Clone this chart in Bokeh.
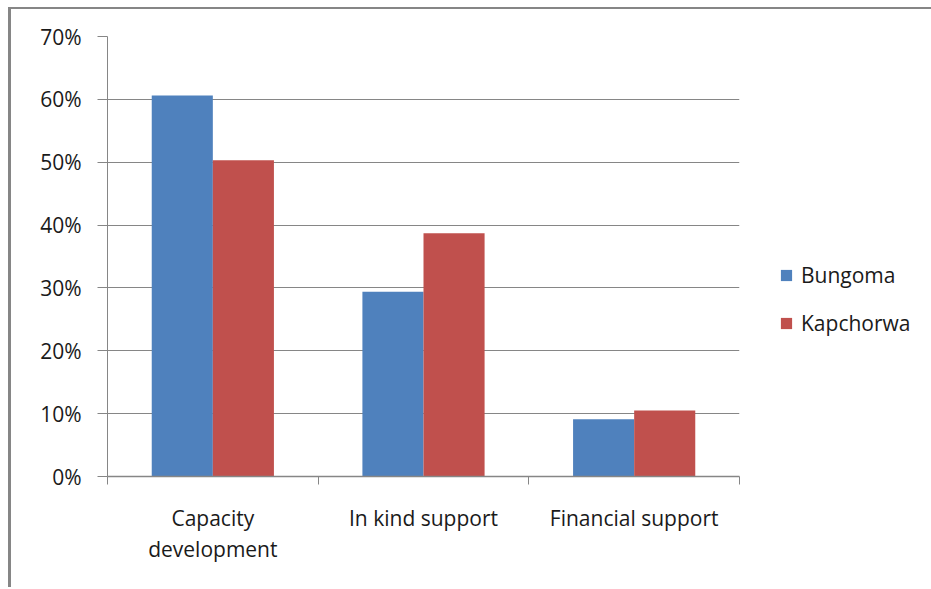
from bokeh.plotting import figure
from bokeh.models import (Range1d, FixedTicker, Legend, LegendItem,
                          NumeralTickFormatter, ColumnDataSource)
from bokeh.embed import file_html
from bokeh.resources import INLINE
import numpy as np

# Share of support type by district
categories = ["Capacity development", "In kind support", "Financial support"]
category_labels = ["Capacity\ndevelopment", "In kind support", "Financial support"]
bungoma = [0.606, 0.294, 0.091]
kapchorwa = [0.503, 0.387, 0.105]
y_ticks = [0.0, 0.1, 0.2, 0.3, 0.4, 0.5, 0.6, 0.7]

BLUE = "#4F81BD"
RED = "#C0504D"
GRID = "#868686"
FONT = "Open Sans"
TEXT = "#1a1a1a"

centers = np.arange(len(categories)) + 0.5
bar_w = 0.29

src = ColumnDataSource(dict(
    xb=centers - bar_w / 2, xk=centers + bar_w / 2,
    bungoma=bungoma, kapchorwa=kapchorwa,
))

p = figure(
    frame_width=632, frame_height=440,
    min_border_left=96, min_border_top=27,
    min_border_right=189, min_border_bottom=111,
    x_range=Range1d(0, len(categories)), y_range=Range1d(0, 0.7),
    output_backend="svg", toolbar_location=None,
)
p.margin = (7, 0, 0, 8)
p.styles = {"border-top": "2px solid #868686", "border-left": "3px solid #868686"}
p.outline_line_color = None
p.background_fill_color = "white"
p.border_fill_color = "white"

rb = p.vbar(x="xb", top="bungoma", width=bar_w, source=src,
            fill_color=BLUE, line_color=None)
rk = p.vbar(x="xk", top="kapchorwa", width=bar_w, source=src,
            fill_color=RED, line_color=None)

# y axis: percentages with outward ticks
ya = p.yaxis[0]
ya.ticker = FixedTicker(ticks=y_ticks)
ya.formatter = NumeralTickFormatter(format="0%")
ya.axis_line_color = GRID
ya.major_tick_line_color = GRID
ya.major_tick_out = 10
ya.major_tick_in = 0
ya.minor_tick_line_color = None
ya.major_label_standoff = 16
ya.major_label_text_font = FONT
ya.major_label_text_font_size = "21px"
ya.major_label_text_color = TEXT

# x axis: labels at category centres, ticks at category boundaries
xa = p.xaxis[0]
xa.ticker = FixedTicker(ticks=list(centers),
                        minor_ticks=list(range(len(categories) + 1)))
xa.major_label_overrides = {float(c): lab for c, lab in zip(centers, category_labels)}
xa.axis_line_color = GRID
xa.axis_line_width = 1.5
xa.major_tick_line_color = None
xa.minor_tick_line_color = GRID
xa.minor_tick_out = 8
xa.minor_tick_in = 0
xa.major_label_standoff = 19
xa.major_label_text_font = FONT
xa.major_label_text_font_size = "21px"
xa.major_label_text_color = TEXT
xa.major_label_text_line_height = 1.12

p.xgrid.grid_line_color = None
p.ygrid.grid_line_color = GRID
p.ygrid.grid_line_width = 1

legend = Legend(
    items=[LegendItem(label="Bungoma", renderers=[rb]),
           LegendItem(label="Kapchorwa", renderers=[rk])],
    location=(40, 139),
    glyph_width=14, glyph_height=14, label_height=20,
    spacing=20, label_standoff=8, padding=0, margin=0,
    border_line_color=None, background_fill_alpha=0,
    label_text_font=FONT, label_text_font_size="21px",
    label_text_color=TEXT,
)
p.add_layout(legend, "right")

open("out.html", "w").write(file_html(p, INLINE))
